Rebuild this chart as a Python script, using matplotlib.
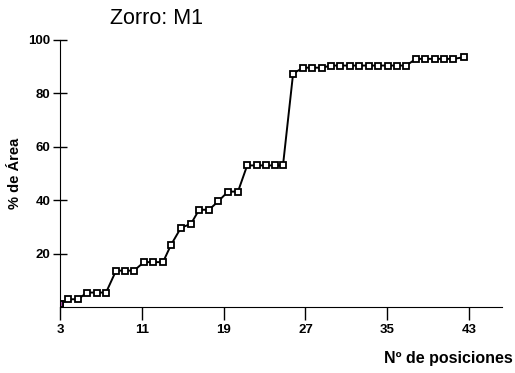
import numpy as np
import matplotlib.pyplot as plt

plt.rcParams.update({'font.family': ['Liberation Sans', 'DejaVu Sans']})

# posición de cada lectura sobre el eje (en unidades del eje)
pos = [3.0, 3.8, 4.76, 5.64, 6.62, 7.5, 8.48, 9.36, 10.24, 11.2, 12.1,
       13.07, 13.86, 14.83, 15.8, 16.6, 17.57, 18.45, 19.43, 20.4, 21.3,
       22.27, 23.15, 24.03, 24.8, 25.79, 26.77, 27.65, 28.62, 29.5, 30.38,
       31.36, 32.24, 33.2, 34.1, 35.08, 35.96, 36.84, 37.8, 38.7, 39.67,
       40.55, 41.43, 42.5]
# % de área acumulada
area = [1.0, 2.9, 2.9, 5.4, 5.4, 5.4, 13.6, 13.6, 13.6, 16.8, 16.8,
        16.8, 23.3, 29.7, 31.1, 36.4, 36.4, 39.5, 43.2, 43.2, 53.0,
        53.0, 53.0, 53.0, 53.0, 87.4, 89.6, 89.6, 89.6, 90.4, 90.4,
        90.4, 90.4, 90.4, 90.4, 90.4, 90.4, 90.4, 92.9, 92.9, 92.9,
        92.9, 92.9, 93.5]
xticks = [3, 11, 19, 27, 35, 43]
yticks = [20, 40, 60, 80, 100]

fig = plt.figure(figsize=(5.15, 3.73), dpi=100)
ax = fig.add_axes([0.1165, 0.177, 0.858, 0.716])

ax.plot(pos, area, color='k', lw=1.4, marker='s', ms=4.3, mfc='white',
        mec='k', mew=1.3)
ax.plot(pos[0], area[0], ls='none', marker='s', ms=4.3, mfc='#b050b0',
        mec='k', mew=1.3)

ax.set_xlim(3, 46.2)
ax.set_ylim(0, 100)
ax.set_xticks(xticks)
ax.set_yticks(yticks)
ax.spines['top'].set_visible(False)
ax.spines['right'].set_visible(False)
ax.tick_params(axis='y', direction='inout', length=10, width=1, pad=2,
               labelsize=9.5)
ax.tick_params(axis='x', direction='out', length=9, width=1, pad=3,
               labelsize=9.5)
for lab in ax.get_xticklabels() + ax.get_yticklabels():
    lab.set_fontweight('bold')

ax.set_ylabel('% de Área', fontsize=10.5, fontweight='bold')
ax.yaxis.set_label_coords(-0.085, 0.5)
fig.text(0.995, 0.04, 'Nº de posiciones', ha='right', va='center',
         fontsize=11.5, fontweight='bold')
fig.text(0.303, 0.95, 'Zorro: M1', ha='center', va='center', fontsize=15.5)

plt.savefig('out.png', dpi=100)
plt.close()
